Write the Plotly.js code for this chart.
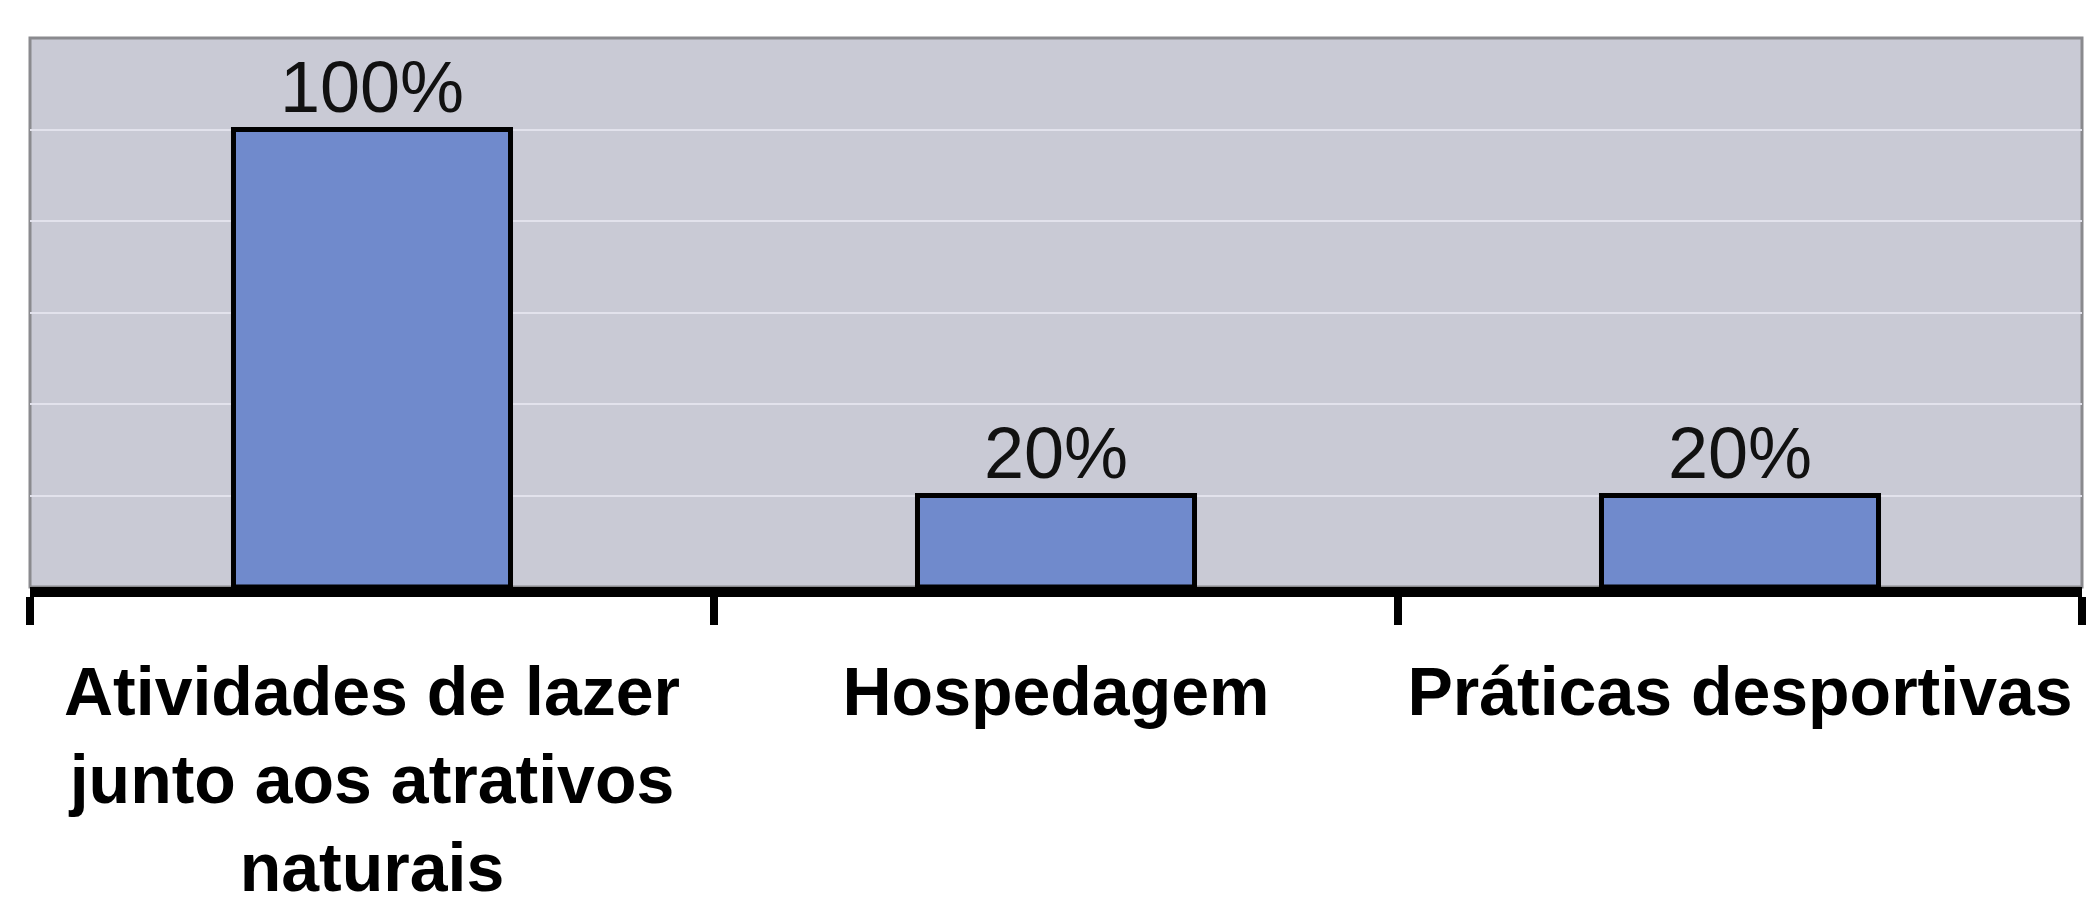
<!DOCTYPE html>
<html>
<head>
<meta charset="utf-8">
<script src="https://cdn.plot.ly/plotly-3.0.1.min.js"></script>
<style>
  html, body { margin: 0; padding: 0; background: #ffffff; }
  #chart { width: 2087px; height: 907px; }
</style>
</head>
<body>
<div id="chart"></div>
<script>
// Categories (x axis tick labels, with their line breaks)
const categories = [
  "Atividades de lazer<br>junto aos atrativos<br>naturais",
  "Hospedagem",
  "Práticas desportivas"
];
// Percentage values
const values = [100, 20, 20];

const trace = {
  type: "bar",
  x: categories,
  y: values,
  width: 0.405,
  marker: {
    color: "#708acc",
    line: { color: "#000000", width: 5 }
  },
  texttemplate: "%{y}%",
  textposition: "outside",
  textfont: { family: "Liberation Sans, Arial, sans-serif", size: 72, color: "#111111" },
  cliponaxis: false,
  hoverinfo: "skip"
};

const layout = {
  width: 2087,
  height: 907,
  margin: { l: 30, r: 5, t: 38, b: 320 },
  paper_bgcolor: "#ffffff",
  plot_bgcolor: "#c9cad5",
  showlegend: false,
  xaxis: {
    type: "category",
    range: [-0.5, 2.5],
    showline: true,
    linecolor: "#000000",
    linewidth: 10,
    ticks: "outside",
    tickson: "boundaries",
    ticklen: 28,
    tickwidth: 8,
    tickcolor: "#000000",
    showgrid: false,
    tickangle: 0,
    automargin: false,
    tickfont: { family: "Liberation Sans, Arial, sans-serif", size: 68, color: "#000000", weight: "bold" },
    ticklabelstandoff: 36,
    fixedrange: true
  },
  yaxis: {
    range: [0, 120],
    dtick: 20,
    showgrid: true,
    gridcolor: "#e2e2ec",
    gridwidth: 2,
    zeroline: false,
    showticklabels: false,
    ticks: "",
    showline: false,
    fixedrange: true
  },
  shapes: [{
    type: "rect",
    xref: "paper", yref: "paper",
    x0: 0, x1: 1, y0: 0, y1: 1,
    line: { color: "#8a8a8e", width: 3 },
    layer: "below"
  }]
};

Plotly.newPlot("chart", [trace], layout, { staticPlot: true, displayModeBar: false });
</script>
</body>
</html>
